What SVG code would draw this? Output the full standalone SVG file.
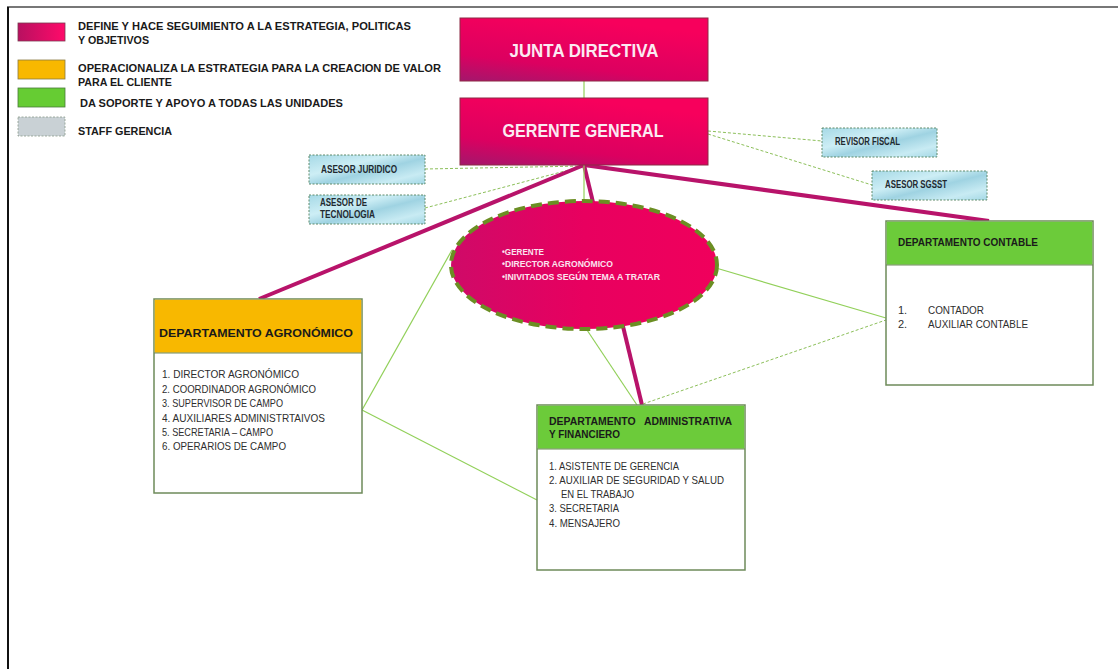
<svg xmlns="http://www.w3.org/2000/svg" width="1118" height="669" viewBox="0 0 1118 669">
<defs>
<linearGradient id="mag" x1="0" y1="1" x2="0.45" y2="0">
<stop offset="0" stop-color="#a3176c"/>
<stop offset="0.35" stop-color="#dc0060"/>
<stop offset="1" stop-color="#f7005c"/>
</linearGradient>
<linearGradient id="ell" x1="0" y1="0.5" x2="1" y2="0.5">
<stop offset="0" stop-color="#cf0a68"/>
<stop offset="0.5" stop-color="#e8005f"/>
<stop offset="1" stop-color="#f0005c"/>
</linearGradient>
<linearGradient id="staff" x1="0" y1="0" x2="1" y2="1">
<stop offset="0" stop-color="#a6d9e6"/>
<stop offset="0.35" stop-color="#cdeef5"/>
<stop offset="0.55" stop-color="#9fd3e2"/>
<stop offset="0.8" stop-color="#c8ebf3"/>
<stop offset="1" stop-color="#a4d8e5"/>
</linearGradient>
<linearGradient id="legmag" x1="0" y1="0.5" x2="1" y2="0.5">
<stop offset="0" stop-color="#b81060"/>
<stop offset="1" stop-color="#ff0a6a"/>
</linearGradient>
</defs>
<style>
.lg{font-family:"Liberation Sans",Arial,sans-serif;font-weight:bold;font-size:11px;fill:#1a1a1a}
.big{font-family:"Liberation Sans",Arial,sans-serif;font-weight:bold;font-size:17.5px;fill:#fbeaf2}
.st{font-family:"Liberation Sans",Arial,sans-serif;font-weight:bold;font-size:10px;fill:#1f2a30}
.el{font-family:"Liberation Sans",Arial,sans-serif;font-weight:bold;font-size:9.5px;fill:#fbe3ef}
.hd{font-family:"Liberation Sans",Arial,sans-serif;font-weight:bold;font-size:11px;fill:#1a1a1a}
.it{font-family:"Liberation Sans",Arial,sans-serif;font-size:11px;fill:#2e2e2e}
.magbox{fill:url(#mag);stroke:#8c2a45;stroke-width:1}
.staffbox{fill:url(#staff);stroke:#5f8a6a;stroke-width:1;stroke-dasharray:2,1.5}
.dept{fill:#fff;stroke:#6e8a5a;stroke-width:1.5}
.thick{stroke:#b8136a;stroke-width:4;fill:none}
.thin{stroke:#92d05a;stroke-width:1.2;fill:none}
.dash{stroke:#8cbf5a;stroke-width:1;stroke-dasharray:3,2;fill:none}
</style>
<rect width="1118" height="669" fill="#fff"/>
<line x1="7" y1="7" x2="1118" y2="7" stroke="#777" stroke-width="2"/>
<line x1="8" y1="7" x2="8" y2="669" stroke="#111" stroke-width="2"/>

<g id="legend">
<rect x="18" y="23" width="47" height="18" fill="url(#legmag)" stroke="#7a3a50" stroke-width="0.8"/>
<text class="lg" x="78" y="29.5" textLength="333" lengthAdjust="spacingAndGlyphs">DEFINE Y HACE SEGUIMIENTO A LA ESTRATEGIA, POLITICAS</text>
<text class="lg" x="78" y="44" textLength="71" lengthAdjust="spacingAndGlyphs">Y OBJETIVOS</text>
<rect x="18" y="60" width="47" height="19" fill="#f8b800" stroke="#8a7a40" stroke-width="0.8"/>
<text class="lg" x="78" y="72" textLength="363" lengthAdjust="spacingAndGlyphs">OPERACIONALIZA LA ESTRATEGIA PARA LA CREACION DE VALOR</text>
<text class="lg" x="78" y="86" textLength="94" lengthAdjust="spacingAndGlyphs">PARA EL CLIENTE</text>
<rect x="18" y="88" width="47" height="19" fill="#66cc33" stroke="#4a7a3a" stroke-width="0.8"/>
<text class="lg" x="80" y="107" textLength="263" lengthAdjust="spacingAndGlyphs">DA SOPORTE Y APOYO A TODAS LAS UNIDADES</text>
<rect x="18" y="117" width="47" height="19" fill="#c9d1d5" stroke="#8a9a8a" stroke-width="0.8" stroke-dasharray="2,1.5"/>
<text class="lg" x="78" y="135" textLength="94" lengthAdjust="spacingAndGlyphs">STAFF GERENCIA</text>
</g>

<g id="connectors">
<line class="thin" x1="584" y1="81" x2="584" y2="98"/>
<line class="dash" x1="708" y1="131" x2="822" y2="141"/>
<line class="dash" x1="708" y1="134" x2="872" y2="185"/>
<line class="dash" x1="425" y1="169" x2="584" y2="166"/>
<line class="dash" x1="425" y1="208" x2="584" y2="166"/>
<line class="thick" x1="584" y1="165" x2="259" y2="299"/>
<line class="thick" x1="584" y1="165" x2="989" y2="221"/>
<line class="thick" x1="584" y1="165" x2="642" y2="405"/>
<line class="thin" x1="584" y1="165" x2="584" y2="202"/>
<line class="thin" x1="452" y1="250" x2="362" y2="410"/>
<line class="thin" x1="362" y1="410" x2="537" y2="500"/>
<line class="thin" x1="587" y1="330" x2="637" y2="405"/>
<line class="thin" x1="716" y1="268" x2="886" y2="318"/>
<line class="dash" x1="643" y1="404" x2="886" y2="320"/>
</g>

<g id="junta-directiva">
<rect class="magbox" x="460" y="18" width="248" height="63"/>
<text class="big" x="584" y="57" text-anchor="middle" textLength="149" lengthAdjust="spacingAndGlyphs">JUNTA DIRECTIVA</text>
</g>
<g id="gerente-general">
<rect class="magbox" x="460" y="98" width="248" height="67"/>
<text class="big" x="583" y="137" text-anchor="middle" textLength="161" lengthAdjust="spacingAndGlyphs">GERENTE GENERAL</text>
</g>

<g id="asesor-juridico">
<rect class="staffbox" x="309" y="155" width="116" height="29"/>
<text class="st" x="321" y="173" textLength="76" lengthAdjust="spacingAndGlyphs">ASESOR JURIDICO</text>
</g>
<g id="asesor-tecnologia">
<rect class="staffbox" x="309" y="195" width="116" height="29"/>
<text class="st" x="320" y="206" textLength="47" lengthAdjust="spacingAndGlyphs">ASESOR DE</text>
<text class="st" x="320" y="217.5" textLength="55" lengthAdjust="spacingAndGlyphs">TECNOLOGIA</text>
</g>
<g id="revisor-fiscal">
<rect class="staffbox" x="822" y="128" width="115" height="29"/>
<text class="st" x="835" y="145" textLength="65" lengthAdjust="spacingAndGlyphs">REVISOR FISCAL</text>
</g>
<g id="asesor-sgsst">
<rect class="staffbox" x="872" y="171" width="115" height="29"/>
<text class="st" x="885" y="188" textLength="62" lengthAdjust="spacingAndGlyphs">ASESOR SGSST</text>
</g>

<g id="comite">
<ellipse cx="584" cy="265" rx="133" ry="64" fill="url(#ell)" stroke="#6b8e23" stroke-width="4" stroke-dasharray="11,6"/>
<text class="el" x="502" y="255" textLength="42" lengthAdjust="spacingAndGlyphs">•GERENTE</text>
<text class="el" x="502" y="267" textLength="111" lengthAdjust="spacingAndGlyphs">•DIRECTOR AGRONÓMICO</text>
<text class="el" x="502" y="280" textLength="158" lengthAdjust="spacingAndGlyphs">•INIVITADOS SEGÚN TEMA A TRATAR</text>
</g>

<g id="dept-agronomico">
<rect class="dept" x="154" y="299" width="208" height="194"/>
<rect x="154.75" y="299.75" width="206.5" height="53" fill="#f8b800"/>
<line x1="154" y1="353" x2="362" y2="353" stroke="#6e8a5a" stroke-width="1.2"/>
<text class="hd" x="159" y="337" textLength="194" lengthAdjust="spacingAndGlyphs">DEPARTAMENTO AGRONÓMICO</text>
<text class="it" x="162" y="378" textLength="137" lengthAdjust="spacingAndGlyphs">1. DIRECTOR AGRONÓMICO</text>
<text class="it" x="162" y="393" textLength="154" lengthAdjust="spacingAndGlyphs">2. COORDINADOR AGRONÓMICO</text>
<text class="it" x="162" y="407" textLength="121" lengthAdjust="spacingAndGlyphs">3. SUPERVISOR DE CAMPO</text>
<text class="it" x="162" y="422" textLength="163" lengthAdjust="spacingAndGlyphs">4. AUXILIARES ADMINISTRTAIVOS</text>
<text class="it" x="162" y="436" textLength="111" lengthAdjust="spacingAndGlyphs">5. SECRETARIA – CAMPO</text>
<text class="it" x="162" y="450" textLength="124" lengthAdjust="spacingAndGlyphs">6. OPERARIOS DE CAMPO</text>
</g>

<g id="dept-administrativa">
<rect class="dept" x="537" y="405" width="208" height="165"/>
<rect x="537.75" y="405.75" width="206.5" height="43" fill="#6ccb3a"/>
<line x1="537" y1="449" x2="745" y2="449" stroke="#6e8a5a" stroke-width="1.2"/>
<text class="hd" x="549" y="425" textLength="183" lengthAdjust="spacingAndGlyphs" xml:space="preserve">DEPARTAMENTO   ADMINISTRATIVA</text>
<text class="hd" x="549" y="438" textLength="71" lengthAdjust="spacingAndGlyphs">Y FINANCIERO</text>
<text class="it" x="549" y="470" textLength="130" lengthAdjust="spacingAndGlyphs">1. ASISTENTE DE GERENCIA</text>
<text class="it" x="549" y="484" textLength="175" lengthAdjust="spacingAndGlyphs">2. AUXILIAR DE SEGURIDAD Y SALUD</text>
<text class="it" x="561" y="498" textLength="73" lengthAdjust="spacingAndGlyphs">EN EL TRABAJO</text>
<text class="it" x="549" y="512" textLength="70" lengthAdjust="spacingAndGlyphs">3. SECRETARIA</text>
<text class="it" x="549" y="527" textLength="71" lengthAdjust="spacingAndGlyphs">4. MENSAJERO</text>
</g>

<g id="dept-contable">
<rect class="dept" x="886" y="221" width="207" height="164"/>
<rect x="886.75" y="221.75" width="205.5" height="43" fill="#6ccb3a"/>
<line x1="886" y1="265" x2="1093" y2="265" stroke="#6e8a5a" stroke-width="1.2"/>
<text class="hd" x="898" y="246" textLength="140" lengthAdjust="spacingAndGlyphs">DEPARTAMENTO CONTABLE</text>
<text class="it" x="898" y="314">1.</text>
<text class="it" x="928" y="314" textLength="56" lengthAdjust="spacingAndGlyphs">CONTADOR</text>
<text class="it" x="898" y="328">2.</text>
<text class="it" x="928" y="328" textLength="100" lengthAdjust="spacingAndGlyphs">AUXILIAR CONTABLE</text>
</g>
</svg>
